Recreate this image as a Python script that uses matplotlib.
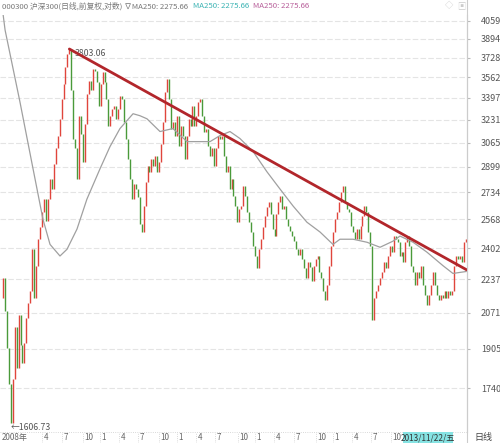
import numpy as np
import matplotlib.pyplot as plt
from matplotlib.patches import Rectangle
from matplotlib.lines import Line2D
import matplotlib.transforms as mtransforms

plt.rcParams['font.family'] = ['Noto Sans CJK SC', 'DejaVu Sans']

# closes (approx. every ~2 trading-pixel)
closes = [
    2144, 2242, 2080, 1910, 1757, 1607, 1778, 2002, 1823, 2062, 1923, 1845, 1933, 2048,
    2119, 2178, 2397, 2144, 2308, 2453, 2522, 2611, 2691, 2557, 2691, 2820, 2754, 2920,
    3024, 3115, 3238, 3390, 3507, 3645, 3760, 3803,
    3460, 3094, 3024, 2820, 3261,
    3129, 2933, 3202, 3428, 3530, 3460, 3628, 3612, 3522, 3337, 3507, 3604, 3522, 3390,
    3188, 3261, 3314, 3337, 3238, 3314, 3413, 3390, 3217, 3094, 2954, 2820, 2691, 2787,
    2754, 2703, 2540, 2494,
    2648, 2800, 2906, 2866, 2954, 2906, 2975, 2866, 2933, 3058, 3217,
    3444, 3546, 3390, 3166, 3217, 3115, 3261, 3044, 3188, 3115, 2954, 3115, 3238, 3188,
    3337, 3188, 3261, 3367, 3390, 3261, 3144, 3166, 3044, 2975, 3024, 2906, 3024, 3115,
    3094, 3115, 2975, 2866, 2906, 2754, 2820, 2710, 2648, 2551, 2630, 2648, 2774, 2710,
    2611, 2551, 2494, 2414, 2360, 2294, 2397, 2453, 2522, 2586, 2642, 2673, 2599, 2511,
    2471, 2599, 2673, 2710, 2630, 2648, 2568, 2528, 2500, 2471, 2442, 2397, 2366, 2397,
    2345, 2294, 2242, 2329, 2303, 2227, 2308, 2345, 2360, 2277, 2242, 2178, 2130, 2208,
    2308, 2414, 2494, 2568, 2611, 2673, 2734, 2774, 2673, 2630, 2611, 2528, 2494, 2453,
    2511, 2453, 2528, 2586, 2648, 2611,
    2494, 2414, 2038, 2144,
    2178, 2208, 2242, 2277, 2329, 2294, 2360, 2414, 2381, 2471, 2453, 2436, 2360, 2381,
    2329, 2436, 2471, 2414, 2308, 2277, 2208, 2277, 2242, 2308, 2208, 2159, 2110, 2159,
    2208, 2277, 2208, 2159, 2130, 2159, 2144, 2178, 2144, 2178, 2159, 2178, 2308, 2360,
    2345, 2360, 2329, 2436, 2453,
]

# MA250 read at a few points (candle index, value)
ma_idx = [0.5, 2.1, 9.7, 16.4, 21.5, 25.1, 30.2, 33.8, 38.9, 44.0, 50.7, 55.8, 60.9,
          67.6, 71.1, 74.7, 81.4, 88.0, 95.2, 101.9, 107.0, 112.1, 117.2, 122.3, 129.0,
          136.1, 142.8, 149.5, 156.6, 163.3, 169.9, 173.5, 180.2, 187.3, 194.0, 200.6,
          204.2, 210.9, 218.0, 226.2, 231.3, 238.0]
ma_val = [4204, 3973, 3367, 2886, 2568, 2424, 2360, 2397, 2511, 2691, 2886, 3037, 3166,
          3276, 3261, 3238, 3144, 3166, 3072, 3072, 3072, 3115, 3144, 3094, 3003,
          2866, 2754, 2648, 2551, 2494, 2424, 2453, 2453, 2436, 2408, 2442,
          2471, 2436, 2381, 2308, 2267, 2277]

# trend line: from the 3803.06 top to the right edge
trend_idx = [35, 238.5]
trend_val = [3803.06, 2285]

yticks = [4059, 3894, 3728, 3562, 3397, 3231, 3065, 2899, 2734, 2568, 2402, 2237,
          2071, 1905, 1740]

month_pos = [21.0, 31.2, 42.0, 50.7, 60.4, 70.1, 80.9, 90.1, 99.8, 109.5, 121.3, 130.0,
             139.7, 150.0, 161.2, 169.9, 179.6, 189.4, 199.6]
month_lab = ['4', '7', '10', '1', '4', '7', '10', '1', '4', '7', '10', '1', '4', '7',
             '10', '1', '4', '7', '10']

n = len(closes)
x = np.arange(n)
c = np.array(closes, dtype=float)
o = np.r_[c[0], c[:-1]]

fig = plt.figure(figsize=(5, 4.43), dpi=100)
ax = fig.add_axes([0, 11 / 443, 467 / 500, 417 / 443])
ax.set_yscale('log')
ax.set_xlim(-0.5, n - 0.5)
ax.set_ylim(1573, 4113)

for v in yticks:
    ax.axhline(v, color='#e4e4e4', lw=0.8, ls=(0, (5, 2)), zorder=0)

up = c >= o
ax.vlines(x[up], o[up], c[up], colors='#e0453c', lw=1.0, zorder=2)
ax.vlines(x[~up], o[~up], c[~up], colors='#4a9a3a', lw=1.0, zorder=2)

ax.plot(ma_idx, ma_val, color='#a0a0a0', lw=0.9, zorder=3)
ax.plot(trend_idx, trend_val, color='#b2262b', lw=2.0, zorder=4, solid_capstyle='round')

ax.text(37.5, 3803.06, '3803.06', fontsize=6.3, color='#555555', va='top', ha='left')
ax.text(5, 1606.73, '←1606.73', fontsize=6.3, color='#555555', va='top', ha='left')

ax.yaxis.tick_right()
ax.set_yticks(yticks)
ax.set_yticklabels([str(v) for v in yticks])
ax.yaxis.set_minor_locator(plt.NullLocator())
ax.tick_params(axis='y', length=2, color='#bbbbbb', labelsize=6.5, labelcolor='#555555', pad=8)
ax.set_xticks([])
for s in ['left', 'top', 'bottom']:
    ax.spines[s].set_visible(False)
ax.spines['right'].set_color('#bbbbbb')
ax.spines['right'].set_linewidth(0.8)

# bottom date band
tr = mtransforms.blended_transform_factory(ax.transData, ax.transAxes)
yb = -5.5 / 417
ax.plot([0, 1], [0, 0], transform=ax.transAxes, color='#cccccc', lw=0.6, ls=':', clip_on=False)
ax.text(0.5, yb, '2008年', transform=tr, fontsize=5.8, color='#666666', va='center', ha='left')
for p, lab in zip(month_pos, month_lab):
    ax.plot([p, p], [-11 / 417, 0], transform=tr, color='#cccccc', lw=0.6, ls=':', clip_on=False)
    ax.text(p + 0.8, yb, lab, transform=tr, fontsize=5.8, color='#666666', va='center', ha='left')

fig.patches.append(Rectangle((403 / 500, 0), 50 / 500, 11 / 443, transform=fig.transFigure,
                             facecolor='#86e3e3', edgecolor='none'))
fig.text(428 / 500, 5.5 / 443, '2013/11/22/五', fontsize=5.9, color='#333333',
         ha='center', va='center')
fig.text(483 / 500, 5.5 / 443, '日线', fontsize=6.5, color='#444444', ha='center', va='center')
fig.lines.append(Line2D([467 / 500, 467 / 500], [0, 1], transform=fig.transFigure,
                        color='#cccccc', lw=0.8))

# header
fig.text(2 / 500, 1 - 6 / 443, '000300 沪深300(日线,前复权,对数) ∇MA250: 2275.66',
         fontsize=5.6, color='#777777', ha='left', va='center')
fig.text(193 / 500, 1 - 6 / 443, 'MA250: 2275.66', fontsize=5.6, color='#3bb3b3',
         ha='left', va='center')
fig.text(253 / 500, 1 - 6 / 443, 'MA250: 2275.66', fontsize=5.6, color='#b85f9a',
         ha='left', va='center')
fig.text(449 / 500, 1 - 6 / 443, '◇', fontsize=6, color='#cccccc', ha='center', va='center')
fig.text(461 / 500, 1 - 6 / 443, '▣', fontsize=6, color='#cccccc', ha='center', va='center')

fig.savefig('out.png', dpi=100, facecolor='white')
